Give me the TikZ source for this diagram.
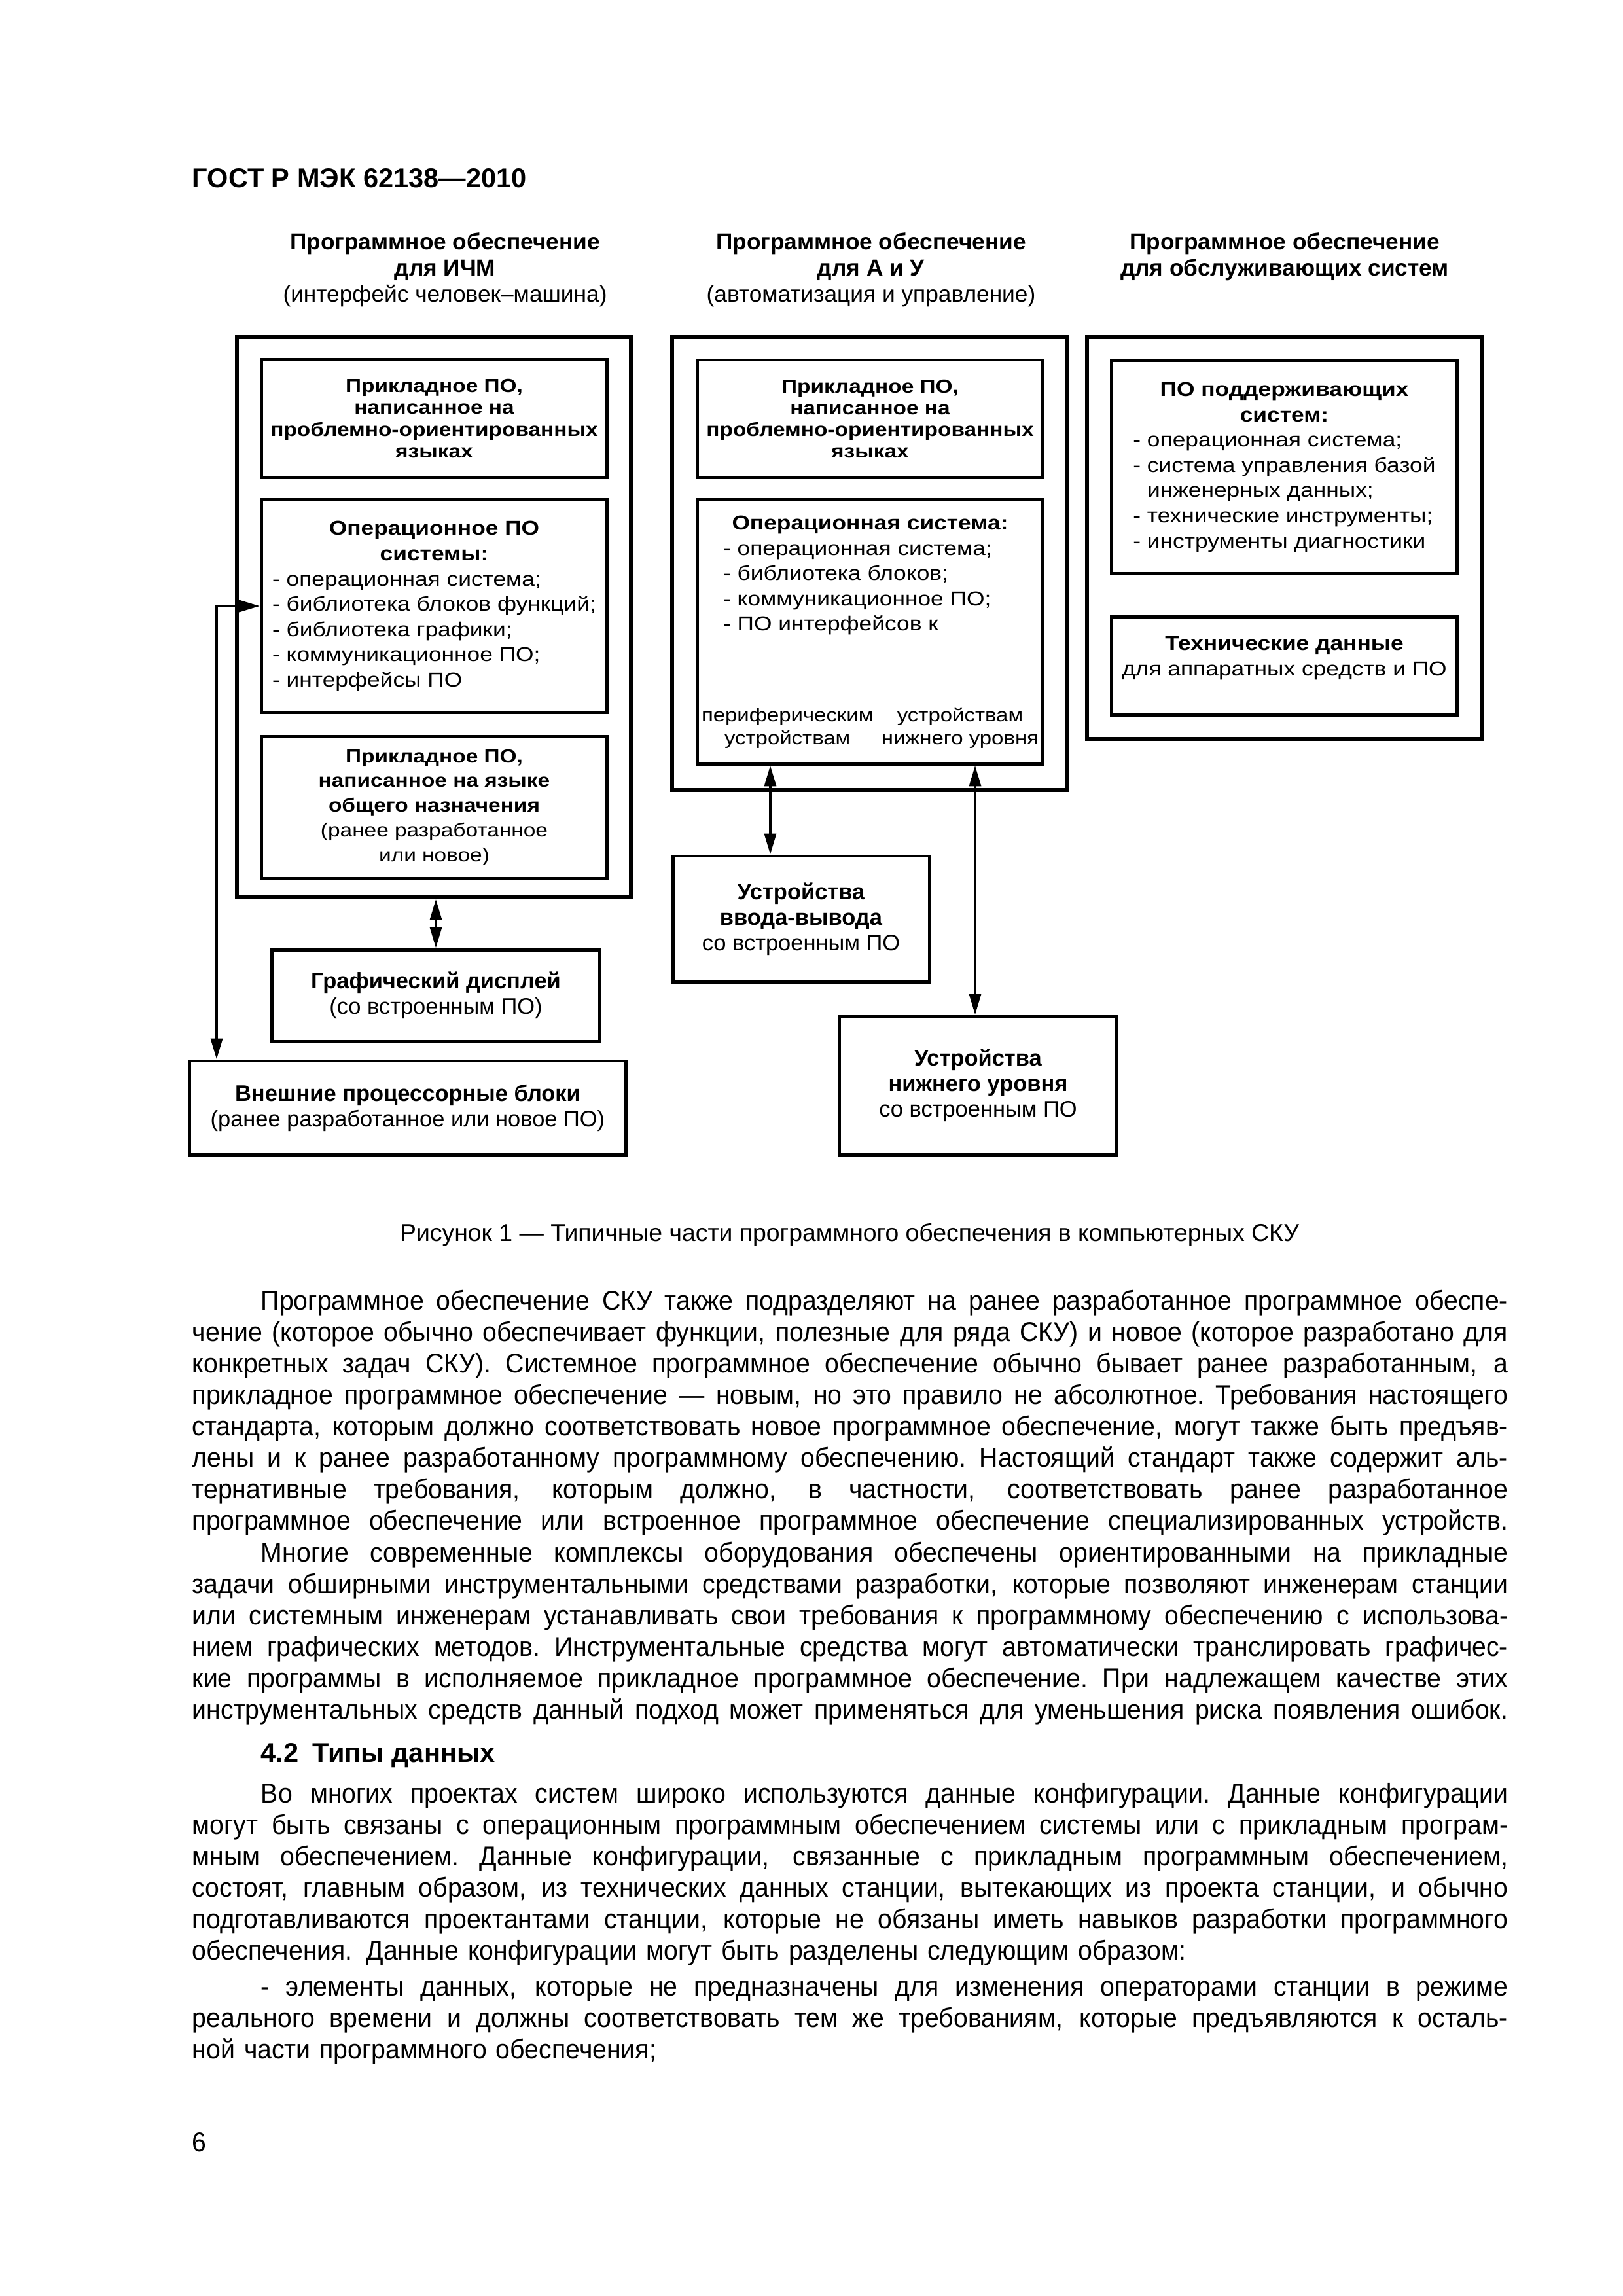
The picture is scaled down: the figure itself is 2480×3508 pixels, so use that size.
\documentclass[tikz,border=0pt]{standalone}
\usepackage{fontspec}
\setmainfont{Liberation Sans}
\newfontfamily\widefont[FakeStretch=1.15]{Liberation Sans}
\newfontfamily\bodyfam[FakeStretch=0.945]{Liberation Sans}
\usetikzlibrary{arrows.meta}

\newcommand\gostfont{\bfseries\fontsize{10}{12}\selectfont}
\newcommand\titlefont{\fontsize{8.5}{9.6}\selectfont}
\newcommand\lowfont{\fontsize{8.3}{9.4}\selectfont}
\newcommand\appfont{\widefont\bfseries\fontsize{7}{8}\selectfont}
\newcommand\osfont{\widefont\fontsize{7.4}{9.3}\selectfont}
\newcommand\genfont{\widefont\fontsize{7}{9.1}\selectfont}
\newcommand\capfont{\fontsize{9}{11}\selectfont}
\newcommand\bodyfont{\bodyfam\fontsize{10}{11.57}\selectfont}
\newcommand\fillspaces{\spaceskip=.25em plus 1fil minus .06em\relax\xspaceskip=\spaceskip}

\newlength\bodyw \setlength\bodyw{170.2mm}
\newlength\bodyind \setlength\bodyind{8.9mm}
\newcommand\justline[1]{\leavevmode\hbox to \bodyw{\fillspaces #1}}
\newcommand\indline[1]{\leavevmode\hbox to \bodyw{\hspace*{\bodyind}\fillspaces #1}}

\tikzset{
	outerbox/.style={rectangle, draw=black, line width=1.3pt, inner sep=0pt},
	innerbox/.style={rectangle, draw=black, line width=1.2pt, inner sep=0pt, minimum width=44.7mm},
	devbox/.style={rectangle, draw=black, line width=1.2pt, inner sep=0pt, align=center, font=\lowfont},
	coltitle/.style={align=center, inner sep=0pt, font=\titlefont},
	plaintext/.style={inner sep=0pt},
	bodytext/.style={text width=\bodyw, align=left, inner sep=0pt, font=\bodyfont},
	dblarrow/.style={{Triangle[length=2.7mm, width=1.5mm]}-{Triangle[length=2.7mm, width=1.5mm]}, line width=1pt},
}

\begin{document}
\begin{tikzpicture}[x=0.0846774mm, y=-0.0846774mm]
	\useasboundingbox (0,0) rectangle (2480,3508);
	\node[plaintext, anchor=base west, font=\gostfont] (gost) at (293,286) {ГОСТ Р МЭК 62138—2010};

	% column titles (base = last line)
	\node[coltitle, anchor=base] (thmi) at (680,461) {\textbf{Программное обеспечение}\\\textbf{для ИЧМ}\\(интерфейс человек–машина)};
	\node[coltitle, anchor=base] (tac) at (1331,461) {\textbf{Программное обеспечение}\\\textbf{для А и У}\\(автоматизация и управление)};
	\node[coltitle, anchor=base] (tserv) at (1963,421) {\textbf{Программное обеспечение}\\\textbf{для обслуживающих систем}};

	% ИЧМ
	\node[outerbox, minimum width=50.98mm, minimum height=72.48mm] (hmi) at (663,943) {};
	\node[innerbox, minimum height=15.16mm, align=center, font=\appfont] (hmiapp) at (663.5,639.5) {Прикладное ПО,\\написанное на\\проблемно-ориентированных\\языках};
	\node[innerbox, minimum height=27.44mm, font=\osfont] (hmios) at (663.5,926) {\begin{tabular}{@{}l@{}}
		\multicolumn{1}{c}{\bfseries Операционное ПО}\\
		\multicolumn{1}{c}{\bfseries системы:}\\
		- операционная система;\\
		- библиотека блоков функций;\\
		- библиотека графики;\\
		- коммуникационное ПО;\\
		- интерфейсы ПО
	\end{tabular}};
	\node[innerbox, minimum height=18.37mm, align=center, font=\genfont] (hmigen) at (663.5,1233.5) {\textbf{Прикладное ПО,}\\\textbf{написанное на языке}\\\textbf{общего назначения}\\(ранее разработанное\\или новое)};
	\node[devbox, minimum width=42.34mm, minimum height=11.85mm] (display) at (666,1521) {\textbf{Графический дисплей}\\(со встроенным ПО)};
	\node[devbox, minimum width=56.40mm, minimum height=12.11mm] (extproc) at (623,1692.5) {\textbf{Внешние процессорные блоки}\\(ранее разработанное или новое ПО)};

	% А и У
	\node[outerbox, minimum width=51.06mm, minimum height=58.60mm] (ac) at (1328.5,861) {};
	\node[innerbox, minimum height=15.24mm, align=center, font=\appfont] (acapp) at (1329.5,640) {Прикладное ПО,\\написанное на\\проблемно-ориентированных\\языках};
	\node[innerbox, minimum height=34.13mm, font=\osfont] (acos) at (1329.5,965.5) {\begin{tabular}{@{}l@{}}
		\multicolumn{1}{c}{\bfseries Операционная система:}\\
		\hspace*{2.8mm}- операционная система;\\
		\hspace*{2.8mm}- библиотека блоков;\\
		\hspace*{2.8mm}- коммуникационное ПО;\\
		\hspace*{2.8mm}- ПО интерфейсов к\\[24pt]
		\fontsize{6.9}{8.6}\selectfont
		\begin{tabular}[t]{@{}c@{\hspace{3pt}}c@{}}
			периферическим & устройствам\\
			устройствам & нижнего уровня
		\end{tabular}
	\end{tabular}};
	\node[devbox, minimum width=33.19mm, minimum height=16.26mm] (iodev) at (1224,1404) {\textbf{Устройства}\\\textbf{ввода-вывода}\\со встроенным ПО};
	\node[devbox, minimum width=35.82mm, minimum height=17.87mm] (lowdev) at (1494.5,1658.5) {\textbf{Устройства}\\\textbf{нижнего уровня}\\со встроенным ПО};

	% обслуживающие системы
	\node[outerbox, minimum width=51.06mm, minimum height=51.99mm] (serv) at (1962.5,822) {};
	\node[innerbox, minimum height=27.52mm, font=\osfont] (servsw) at (1962.5,713.5) {\begin{tabular}{@{}l@{}}
		\multicolumn{1}{c}{\bfseries ПО поддерживающих}\\
		\multicolumn{1}{c}{\bfseries систем:}\\
		- операционная система;\\
		- система управления базой\\
		\phantom{- }инженерных данных;\\
		- технические инструменты;\\
		- инструменты диагностики
	\end{tabular}};
	\node[innerbox, minimum height=12.62mm, font=\osfont] (techdata) at (1962.5,1017.5) {\begin{tabular}{@{}c@{}}
		\bfseries Технические данные\\
		для аппаратных средств и ПО\\[6pt]
	\end{tabular}};

	% connections
	\coordinate (lx) at (331,0);
	\coordinate (ka) at (1177,0);
	\coordinate (kb) at (1490,0);
	\draw[dblarrow] (hmios.west) -| (lx |- extproc.north);
	\draw[dblarrow] (display.north) -- (display.north |- hmi.south);
	\draw[dblarrow] (ka |- acos.south) -- (ka |- iodev.north);
	\draw[dblarrow] (kb |- acos.south) -- (kb |- lowdev.north);

	\node[plaintext, anchor=base, font=\capfont] (caption) at (1298,1896) {Рисунок 1 — Типичные части программного обеспечения в компьютерных СКУ};

	% text of the page
	\node[bodytext, anchor=base west] (para1) at (293,2001) {%
		\indline{Программное обеспечение СКУ также подразделяют на ранее разработанное программное обеспе-}\\
		\justline{чение (которое обычно обеспечивает функции, полезные для ряда СКУ) и новое (которое разработано для}\\
		\justline{конкретных задач СКУ). Системное программное обеспечение обычно бывает ранее разработанным, а}\\
		\justline{прикладное программное обеспечение — новым, но это правило не абсолютное. Требования настоящего}\\
		\justline{стандарта, которым должно соответствовать новое программное обеспечение, могут также быть предъяв-}\\
		\justline{лены и к ранее разработанному программному обеспечению. Настоящий стандарт также содержит аль-}\\
		\justline{тернативные требования, которым должно, в частности, соответствовать ранее разработанное}\\
		\justline{программное обеспечение или встроенное программное обеспечение специализированных устройств.}};
	\node[bodytext, anchor=base west] (para2) at (293,2386) {%
		\indline{Многие современные комплексы оборудования обеспечены ориентированными на прикладные}\\
		\justline{задачи обширными инструментальными средствами разработки, которые позволяют инженерам станции}\\
		\justline{или системным инженерам устанавливать свои требования к программному обеспечению с использова-}\\
		\justline{нием графических методов. Инструментальные средства могут автоматически транслировать графичес-}\\
		\justline{кие программы в исполняемое прикладное программное обеспечение. При надлежащем качестве этих}\\
		\justline{инструментальных средств данный подход может применяться для уменьшения риска появления ошибок.}};
	\node[plaintext, anchor=base west, font=\gostfont] (sec) at (398,2692) {4.2\enspace Типы данных};
	\node[bodytext, anchor=base west] (para3) at (293,2754) {%
		\indline{Во многих проектах систем широко используются данные конфигурации. Данные конфигурации}\\
		\justline{могут быть связаны с операционным программным обеспечением системы или с прикладным програм-}\\
		\justline{мным обеспечением. Данные конфигурации, связанные с прикладным программным обеспечением,}\\
		\justline{состоят, главным образом, из технических данных станции, вытекающих из проекта станции, и обычно}\\
		\justline{подготавливаются проектантами станции, которые не обязаны иметь навыков разработки программного}\\
		обеспечения. Данные конфигурации могут быть разделены следующим образом:};
	\node[bodytext, anchor=base west] (para4) at (293,3049) {%
		\indline{- элементы данных, которые не предназначены для изменения операторами станции в режиме}\\
		\justline{реального времени и должны соответствовать тем же требованиям, которые предъявляются к осталь-}\\
		ной части программного обеспечения;};
	\node[plaintext, anchor=base west, font=\bodyfont] (pnum) at (293,3287) {6};
\end{tikzpicture}
\end{document}
